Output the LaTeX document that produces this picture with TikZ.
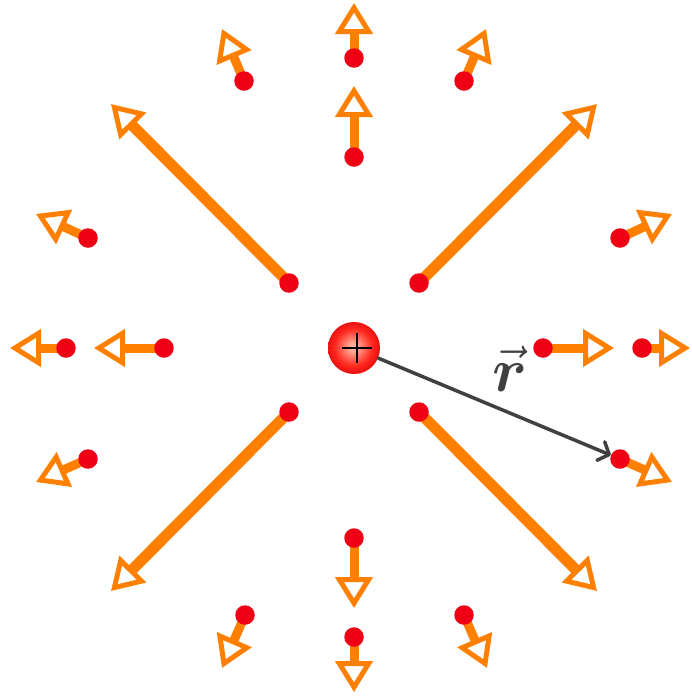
\documentclass[tikz,border=0pt]{standalone}
\usepackage{amsmath}
\usetikzlibrary{arrows.meta}
\definecolor{fieldorange}{RGB}{255,128,0}
\definecolor{dotred}{RGB}{240,0,20}
\definecolor{vecgray}{RGB}{64,64,64}
\definecolor{chA}{RGB}{255,190,170}
\definecolor{chB}{RGB}{255,150,130}
\definecolor{chC}{RGB}{255,40,30}
\definecolor{chD}{RGB}{235,15,15}
\pgfdeclareradialshading{chargeshade}{\pgfpoint{-1bp}{1bp}}{color(0bp)=(chA); color(6bp)=(chB); color(18bp)=(chC); color(25bp)=(chD); color(50bp)=(chD)}
\begin{document}
\begin{tikzpicture}[x=1pt,y=-1pt,
  dot/.style={circle, fill=dotred, inner sep=0pt, minimum size=19.5pt},
  charge/.style={circle, shading=chargeshade, inner sep=0pt, minimum size=52pt},
  field/.style={draw=fieldorange, line width=9pt,
    -{Triangle[open, length=31pt, width=37pt, line width=5pt]}},
  bigfield/.style={field, line width=11pt},
  rvec/.style={draw=vecgray, line width=3.5pt, line cap=round,
    -{Straight Barb[length=9pt, width=20pt, line width=3.5pt, round]}}]
\useasboundingbox (0,0) rectangle (692,697);
\foreach \i/\px/\py/\tx/\ty/\st in {
  1/354/58/354/3/field, 2/354/157/354/86/field,
  3/464/81/486/29/field, 4/244/81/222/29/field,
  5/289/283/111/104/bigfield, 6/419/283/597/104/bigfield,
  7/88/238/36/214/field, 8/620/238/672/214/field,
  9/66/348/10/348/field, 10/164/348/94/348/field,
  11/543/348/614/348/field, 12/642/348/690/348/field,
  13/88/459/36/482/field, 14/620/459/672/482/field,
  15/289/412/111/591/bigfield, 16/419/412/597/591/bigfield,
  17/354/538/354/608/field, 18/354/637/354/692/field,
  19/245/615/222/668/field, 20/464/615/487/668/field}{
  \coordinate (p\i) at (\px,\py);
  \coordinate (t\i) at (\tx,\ty);
  \draw[\st] (p\i) -- (t\i);
  \node[dot] (d\i) at (p\i) {};
}
\node[charge] (q) at (354,348) {};
\draw[black, line width=2pt] (q.center) ++(-12,0) coordinate (qa) -- ++(30,0) coordinate (qb);
\draw[black, line width=2pt] (q.center) ++(3,-15) coordinate (qc) -- ++(0,30) coordinate (qd);
\draw[rvec] (q) -- (d14);
\node[text=vecgray, font=\huge, inner sep=0pt] (rl) at (510,369) {\scalebox{3.0}{$\vec{\boldsymbol{r}}$}};
\end{tikzpicture}
\end{document}
